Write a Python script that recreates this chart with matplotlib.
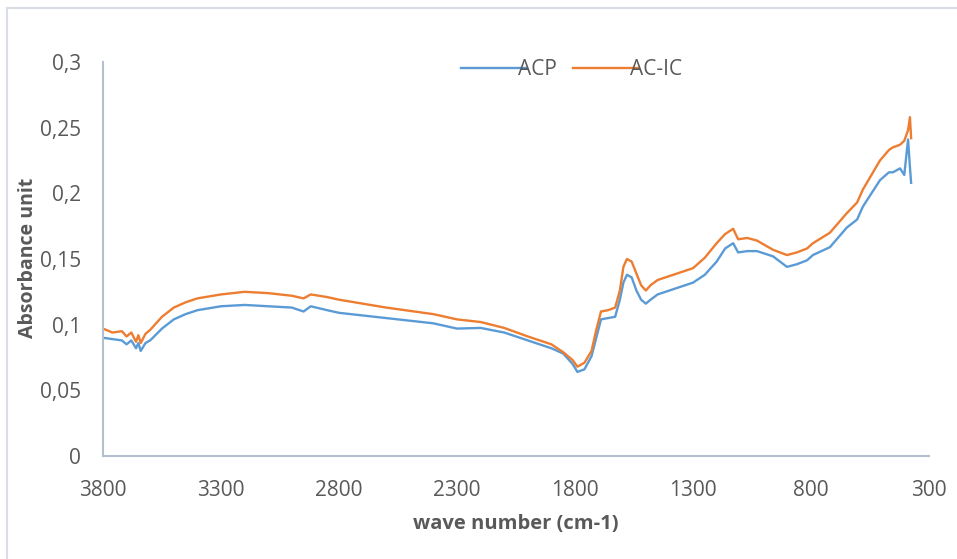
import matplotlib.pyplot as plt
from matplotlib.lines import Line2D
from matplotlib.ticker import FuncFormatter

plt.rcParams['font.family'] = ['Open Sans', 'DejaVu Sans']

# wave numbers (cm-1)
wave_acp = [3800, 3760, 3720, 3700, 3680, 3660, 3650, 3640, 3620, 3600, 3550, 3500, 3450, 3400,
            3300, 3200, 3100, 3000, 2950, 2920, 2850, 2800, 2600, 2400, 2300, 2200, 2100,
            2000, 1900, 1850, 1810, 1790, 1760, 1730, 1710, 1690, 1660, 1630, 1610, 1595,
            1580, 1560, 1540, 1520, 1500, 1480, 1450, 1400, 1350, 1300, 1250, 1200, 1164,
            1130, 1109, 1070, 1029, 961, 902, 860, 817, 792, 720, 648, 605, 580, 508, 470,
            453, 423, 405, 389, 381, 376]
acp = [0.090, 0.089, 0.088, 0.085, 0.088, 0.082, 0.086, 0.080, 0.086, 0.088, 0.097, 0.104, 0.108, 0.111,
       0.114, 0.115, 0.114, 0.113, 0.110, 0.114, 0.111, 0.109, 0.105, 0.101, 0.097, 0.0975, 0.094,
       0.088, 0.082, 0.078, 0.070, 0.064, 0.066, 0.076, 0.090, 0.104, 0.105, 0.106, 0.119, 0.132,
       0.138, 0.136, 0.126, 0.119, 0.116, 0.119, 0.123, 0.126, 0.129, 0.132, 0.138, 0.148, 0.158,
       0.162, 0.155, 0.156, 0.156, 0.152, 0.144, 0.146, 0.149, 0.153, 0.159, 0.174, 0.180, 0.190, 0.210, 0.216,
       0.216, 0.219, 0.214, 0.241, 0.220, 0.208]

wave_acic = [3800, 3760, 3720, 3700, 3680, 3660, 3650, 3640, 3620, 3600, 3550, 3500, 3450, 3400,
             3300, 3200, 3100, 3000, 2950, 2920, 2850, 2800, 2600, 2400, 2300, 2200, 2100,
             2000, 1900, 1850, 1810, 1790, 1760, 1730, 1710, 1690, 1660, 1630, 1610, 1595,
             1580, 1560, 1540, 1520, 1500, 1480, 1450, 1400, 1350, 1300, 1250, 1200, 1164,
             1130, 1109, 1070, 1029, 961, 902, 860, 817, 792, 720, 648, 605, 580, 508, 470,
             453, 423, 405, 389, 381, 376]
acic = [0.097, 0.094, 0.095, 0.091, 0.094, 0.087, 0.092, 0.086, 0.093, 0.096, 0.106, 0.113, 0.117, 0.120,
        0.123, 0.125, 0.124, 0.122, 0.120, 0.123, 0.121, 0.119, 0.113, 0.108, 0.104, 0.102, 0.0975,
        0.091, 0.085, 0.079, 0.073, 0.068, 0.071, 0.080, 0.096, 0.110, 0.111, 0.113, 0.126, 0.144,
        0.150, 0.148, 0.139, 0.130, 0.126, 0.130, 0.134, 0.137, 0.140, 0.143, 0.151, 0.162, 0.169,
        0.173, 0.165, 0.166, 0.164, 0.157, 0.153, 0.155, 0.158, 0.162, 0.170, 0.185, 0.193, 0.203, 0.225, 0.233,
        0.235, 0.237, 0.240, 0.248, 0.258, 0.242]

blue = '#5B9BD5'
orange = '#ED7D31'
txt = '#595959'
axcol = '#B4C0D2'

fig = plt.figure(figsize=(9.57, 5.59), dpi=100)
ax = fig.add_axes([0.1076, 0.1843, 0.8632, 0.7048])

ax.plot(wave_acp, acp, color=blue, lw=1.7, label='ACP')
ax.plot(wave_acic, acic, color=orange, lw=1.7, label='AC-IC')

ax.set_xlim(3800, 300)
ax.set_ylim(0, 0.3)
ax.set_xticks([3800, 3300, 2800, 2300, 1800, 1300, 800, 300])
ax.set_yticks([0, 0.05, 0.1, 0.15, 0.2, 0.25, 0.3])
ax.yaxis.set_major_formatter(FuncFormatter(lambda v, p: ('%g' % round(v, 2)).replace('.', ',')))

for s in ['top', 'right']:
    ax.spines[s].set_visible(False)
for s in ['left', 'bottom']:
    ax.spines[s].set_color(axcol)
    ax.spines[s].set_linewidth(1.5)
ax.tick_params(length=0, labelsize=15, labelcolor=txt)
ax.tick_params(axis='y', pad=16)
ax.tick_params(axis='x', pad=17)

ax.set_xlabel('wave number (cm-1)', fontsize=14.5, fontweight='bold', color=txt)
ax.set_ylabel('Absorbance unit', fontsize=14, fontweight='bold', color=txt)
ax.xaxis.set_label_coords(0.5, -0.1726)
ax.yaxis.set_label_coords(-0.0908, 0.5025)
ax.xaxis.label.set_va('center')
ax.yaxis.label.set_va('center')

ax.legend(loc='upper center', bbox_to_anchor=(0.567, 1.055), ncol=2, frameon=False,
          fontsize=15, labelcolor=txt, handlelength=3.15, handletextpad=-0.4, columnspacing=0.75)

# light chart-area border (top and left)
fig.add_artist(Line2D([7 / 957, 7 / 957], [0, 1 - 8 / 559], transform=fig.transFigure, color='#D9DEE6', lw=1.5))
fig.add_artist(Line2D([7 / 957, 1], [1 - 8 / 559, 1 - 8 / 559], transform=fig.transFigure, color='#D9DEE6', lw=1.5))

fig.savefig('out.png', dpi=100)
